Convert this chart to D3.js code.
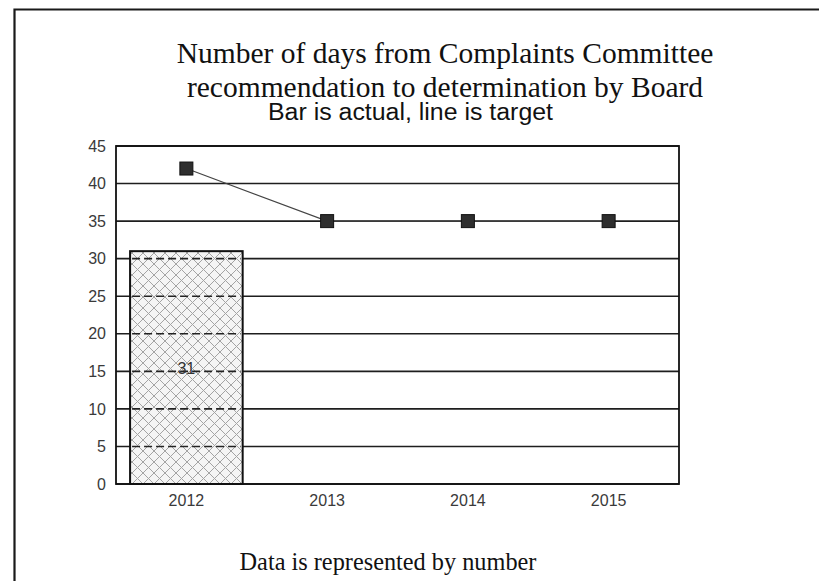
<!DOCTYPE html>
<html>
<head>
<meta charset="utf-8">
<script src="https://cdn.jsdelivr.net/npm/d3@7"></script>
<style>
  html, body { margin: 0; padding: 0; background: #fff; }
  svg { display: block; }
</style>
</head>
<body>
<svg id="chart" width="819" height="581"></svg>
<script>
// Chart data
const years = ["2012", "2013", "2014", "2015"];
const actualDays = [31, null, null, null];   // bar: actual
const targetDays = [42, 35, 35, 35];          // line: target
const yTicks = [0, 5, 10, 15, 20, 25, 30, 35, 40, 45];

const titleLines = [
  "Number of days from Complaints Committee",
  "recommendation to determination by Board"
];
const subtitle = "Bar is actual, line is target";
const footer = "Data is represented by number";

const svg = d3.select("#chart");
const plot = { left: 116, right: 679, top: 146, bottom: 484 };

const x = d3.scaleBand().domain(years)
  .range([plot.left, plot.right]).paddingInner(0.2).paddingOuter(0.1);
const y = d3.scaleLinear().domain([0, 45]).range([plot.bottom, plot.top]);

// Outer frame (top and left edges)
svg.append("path")
  .attr("d", `M14.5,581 L14.5,9.5 L819,9.5`)
  .attr("fill", "none").attr("stroke", "#1a1a1a").attr("stroke-width", 2.2);

// Titles
const serif = "'Liberation Serif','Times New Roman',serif";
const sans = "'Liberation Sans',Arial,sans-serif";
svg.append("g").selectAll("text").data(titleLines).join("text")
  .attr("x", 445).attr("y", (d, i) => 63 + i * 34)
  .attr("text-anchor", "middle")
  .attr("font-family", serif).attr("font-size", 29.5).attr("fill", "#111")
  .text(d => d);

// Subtitle: slightly tall, narrow sans lettering
svg.append("text")
  .attr("x", 268).attr("y", 120)
  .attr("font-family", sans).attr("font-size", 21).attr("fill", "#111")
  .attr("textLength", 285).attr("lengthAdjust", "spacingAndGlyphs")
  .attr("transform", "translate(0,120) scale(1,1.1) translate(0,-120)")
  .text(subtitle);

svg.append("text")
  .attr("x", 388).attr("y", 570)
  .attr("text-anchor", "middle")
  .attr("font-family", serif).attr("font-size", 24.3).attr("fill", "#111")
  .text(footer);

// Cross-hatch fill for the bar
const defs = svg.append("defs");
const pat = defs.append("pattern")
  .attr("id", "hatch").attr("patternUnits", "userSpaceOnUse")
  .attr("width", 11).attr("height", 11);
pat.append("rect").attr("width", 11).attr("height", 11).attr("fill", "#f4f4f4");
pat.append("path").attr("d", "M0,0 L11,11 M11,0 L0,11 M-1,10 L1,12 M10,-1 L12,1 M-1,1 L1,-1 M10,12 L12,10")
  .attr("stroke", "#a3a3a3").attr("stroke-width", 1);

// Horizontal gridlines
svg.append("g").selectAll("line").data(yTicks).join("line")
  .attr("x1", plot.left).attr("x2", plot.right)
  .attr("y1", d => y(d)).attr("y2", d => y(d))
  .attr("stroke", "#1e1e1e").attr("stroke-width", 1.6);

// Bars (actual)
const barData = years.map((yr, i) => ({ yr, v: actualDays[i] })).filter(d => d.v != null);
const bars = svg.append("g");
bars.selectAll("rect").data(barData).join("rect")
  .attr("x", d => x(d.yr)).attr("width", x.bandwidth())
  .attr("y", d => y(d.v)).attr("height", d => y(0) - y(d.v))
  .attr("fill", "url(#hatch)").attr("stroke", "#111").attr("stroke-width", 2);

// Gridlines seen through the bar, dashed
barData.forEach(d => {
  bars.append("g").selectAll("line").data(yTicks.filter(t => t > 0 && t < d.v)).join("line")
    .attr("x1", x(d.yr) + 2).attr("x2", x(d.yr) + x.bandwidth() - 2)
    .attr("y1", t => y(t)).attr("y2", t => y(t))
    .attr("stroke", "#222").attr("stroke-width", 1.6).attr("stroke-dasharray", "8,4");
});

// Bar value labels
bars.selectAll("text").data(barData).join("text")
  .attr("x", d => x(d.yr) + x.bandwidth() / 2)
  .attr("y", d => (y(d.v) + y(0)) / 2 + 6)
  .attr("text-anchor", "middle")
  .attr("font-family", sans).attr("font-size", 16).attr("fill", "#333")
  .text(d => d.v);

// Plot border
svg.append("rect")
  .attr("x", plot.left).attr("y", plot.top)
  .attr("width", plot.right - plot.left).attr("height", plot.bottom - plot.top)
  .attr("fill", "none").attr("stroke", "#111").attr("stroke-width", 1.8);

// Target line and markers
const cx = d => x(d) + x.bandwidth() / 2;
const linePts = years.map((yr, i) => [cx(yr), y(targetDays[i])]);
svg.append("path")
  .attr("d", d3.line()(linePts))
  .attr("fill", "none").attr("stroke", "#444").attr("stroke-width", 1.2);
const ms = 13;
svg.append("g").selectAll("rect").data(linePts).join("rect")
  .attr("x", d => d[0] - ms / 2).attr("y", d => d[1] - ms / 2)
  .attr("width", ms).attr("height", ms)
  .attr("fill", "#2e2e2e").attr("stroke", "#111").attr("stroke-width", 1);

// Y axis labels
const yAxis = d3.axisLeft(y).tickValues(yTicks).tickSize(0).tickPadding(10);
const gy = svg.append("g").attr("transform", `translate(${plot.left},0)`).call(yAxis);
gy.select(".domain").remove();
gy.selectAll("text").attr("font-family", sans).attr("font-size", 16).attr("fill", "#3a3a3a");

// X axis labels
const xAxis = d3.axisBottom(x).tickSize(0).tickPadding(11);
const gx = svg.append("g").attr("transform", `translate(0,${plot.bottom})`).call(xAxis);
gx.select(".domain").remove();
gx.selectAll("text").attr("font-family", sans).attr("font-size", 16).attr("fill", "#3a3a3a");
</script>
</body>
</html>
